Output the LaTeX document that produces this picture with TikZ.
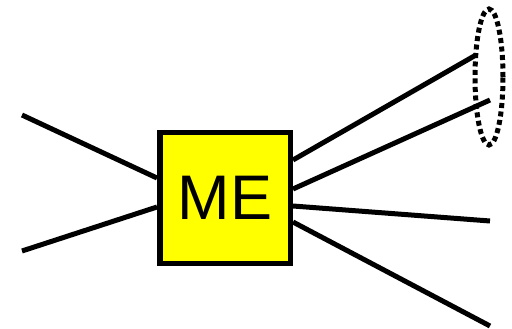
\documentclass[tikz,border=0pt]{standalone}
\usepackage{fontspec}
\setmainfont{Liberation Sans}
\usepackage{tikz}
\usetikzlibrary{calc,shapes.geometric}
\definecolor{mefill}{HTML}{FFFF00}
\tikzset{
  blk/.style={draw=black, fill=mefill, line width=5.5pt, minimum size=130.5pt, inner sep=0pt,
              font=\fontsize{63}{70}\selectfont},
  lnk/.style={line width=5pt, draw=black},
  grp/.style={ellipse, draw=black, line width=5pt, dash pattern=on 5pt off 3.5pt,
              minimum width=28pt, minimum height=136pt, inner sep=0pt},
}
\begin{document}
\begin{tikzpicture}[x=1pt,y=-1pt]
  \useasboundingbox (0,0) rectangle (512,329);
  \node[blk] (me) at (225,198) {ME};
  \node[grp] (ring) at (489,77) {};
  % free ends
  \coordinate (la) at (22,115);
  \coordinate (lb) at (22,251);
  \coordinate (ra) at (476,55);
  \coordinate (rb) at (490,100);
  \coordinate (rc) at (490,221);
  \coordinate (rd) at (490,326);
  \draw[lnk] (la) -- ($(me.west)+(0,-20)$);
  \draw[lnk] (lb) -- ($(me.west)+(0,9)$);
  \draw[lnk] ($(me.east)+(0,-38)$) -- (ra);
  \draw[lnk] ($(me.east)+(0,-9)$) -- (rb);
  \draw[lnk] ($(me.east)+(0,8)$) -- (rc);
  \draw[lnk] ($(me.east)+(0,24)$) -- (rd);
\end{tikzpicture}
\end{document}
